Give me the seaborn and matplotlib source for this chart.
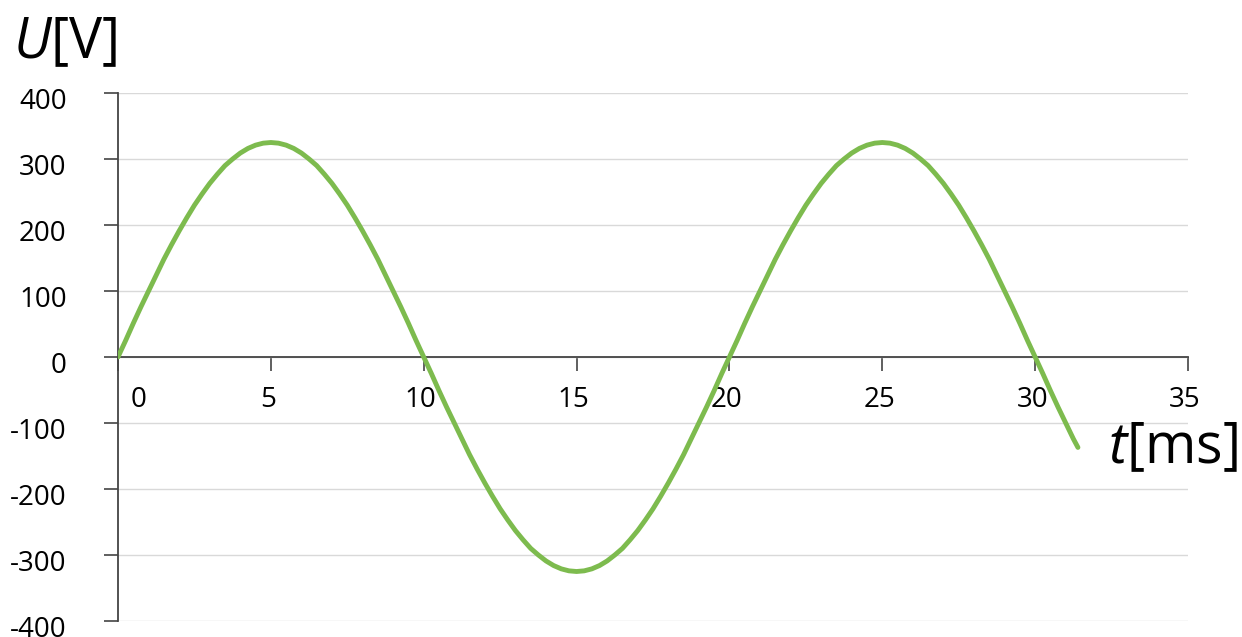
import numpy as np
import matplotlib
matplotlib.use("Agg")
import matplotlib.pyplot as plt
from matplotlib.transforms import ScaledTranslation
import seaborn as sns

# voltage every 0.25 ms; the trace stops at 31.4 ms
t_ms = [i * 0.25 for i in range(126)] + [31.4]
u_volt = [0, 25, 51, 76, 100, 124, 148, 170, 191, 211, 230, 247, 263, 277, 290, 300, 309, 316, 321, 324,
          325, 324, 321, 316, 309, 300, 290, 277, 263, 247, 230, 211, 191, 170, 148, 124, 100, 76, 51, 25,
          0, -25, -51, -76, -100, -124, -148, -170, -191, -211, -230, -247, -263, -277, -290, -300, -309, -316, -321, -324,
          -325, -324, -321, -316, -309, -300, -290, -277, -263, -247, -230, -211, -191, -170, -148, -124, -100, -76, -51, -25,
          0, 25, 51, 76, 100, 124, 148, 170, 191, 211, 230, 247, 263, 277, 290, 300, 309, 316, 321, 324,
          325, 324, 321, 316, 309, 300, 290, 277, 263, 247, 230, 211, 191, 170, 148, 124, 100, 76, 51, 25,
          0, -25, -51, -76, -100, -124, -137]

x_ticks = [0, 5, 10, 15, 20, 25, 30, 35]
y_ticks = [-400, -300, -200, -100, 0, 100, 200, 300, 400]
y_tick_labels = ["-400", "-300", "-200", "-100", "0", "100", "200", "300", "400"]

sns.set_style("white")
plt.rcParams["font.family"] = ["Open Sans", "DejaVu Sans"]
plt.rcParams["mathtext.fontset"] = "custom"
plt.rcParams["mathtext.rm"] = "Open Sans"
plt.rcParams["mathtext.it"] = "Open Sans:italic"

fig = plt.figure(figsize=(12.42, 6.37), dpi=100)
ax = fig.add_axes([118/1242, 1 - 621/637, (1188 - 118)/1242, (621 - 93)/637])

sns.lineplot(x=t_ms, y=u_volt, ax=ax, color="#7dbb4e", linewidth=3.5,
             sort=False, estimator=None, zorder=3)

ax.set_xlim(0, 35)
ax.set_ylim(-400, 400)
ax.set_xticks(x_ticks)
ax.set_yticks(y_ticks)
ax.set_yticklabels(y_tick_labels)

# grid
ax.yaxis.grid(True, color="#d9d9d9", linewidth=1.0)
ax.xaxis.grid(False)
ax.set_axisbelow(True)

for side in ["top", "right"]:
    ax.spines[side].set_visible(False)
ax.spines["bottom"].set_position(("data", 0))
for side in ["left", "bottom"]:
    ax.spines[side].set_color("#444444")
    ax.spines[side].set_linewidth(1.3)

ax.tick_params(axis="y", left=True, direction="out", length=10, width=1.2, color="#444444",
               labelsize=20, pad=27, labelcolor="black")
ax.tick_params(axis="x", bottom=True, direction="out", length=10, width=1.2, color="#444444",
               labelsize=20, pad=11, labelcolor="black")

# nudge tick labels to where the reference puts them
for lbl in ax.get_yticklabels():
    lbl.set_transform(lbl.get_transform() + ScaledTranslation(0, -4/72, fig.dpi_scale_trans))
for val, lbl in zip(x_ticks, ax.get_xticklabels()):
    dx = 21 if val == 0 else -3
    lbl.set_transform(lbl.get_transform() + ScaledTranslation(dx/100, 0, fig.dpi_scale_trans))

ax.set_xlabel("")
ax.set_ylabel("")

fig.text(13/1242, 1 - 58/637, "$U$[V]", fontsize=40, color="black", ha="left", va="baseline")
fig.text(1108/1242, 1 - 463/637, "$t$[ms]", fontsize=40, color="black", ha="left", va="baseline")

fig.savefig("out.png", dpi=100)
